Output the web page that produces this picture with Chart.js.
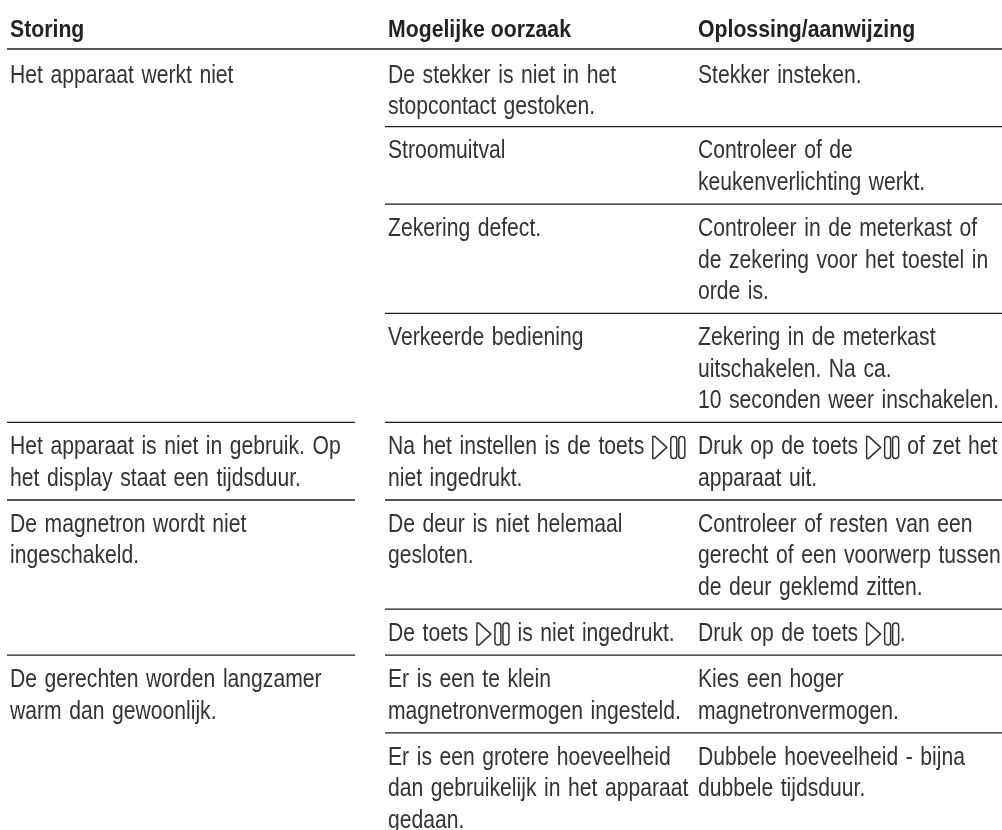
<!DOCTYPE html>
<html lang="nl">
<head>
<meta charset="utf-8">
<title>Storingen</title>
<script src="https://cdn.jsdelivr.net/npm/chart.js@4"></script>
<style>
    html, body { margin: 0; padding: 0; background: #fff; }
    canvas { display: block; }
</style>
</head>
<body>
<canvas id="tabel" width="1002" height="830"></canvas>
<script>
const koppen = ["Storing", "Mogelijke oorzaak", "Oplossing/aanwijzing"];

const storingen = [
    ["Het apparaat werkt niet"],
    ["Het apparaat is niet in gebruik. Op", "het display staat een tijdsduur."],
    ["De magnetron wordt niet", "ingeschakeld."],
    ["De gerechten worden langzamer", "warm dan gewoonlijk."]
];

// aantal rijen per storing
const rijenPerStoring = [4, 1, 2, 2];

const oorzaken = [
    ["De stekker is niet in het", "stopcontact gestoken."],
    ["Stroomuitval"],
    ["Zekering defect."],
    ["Verkeerde bediening"],
    ["Na het instellen is de toets ▷", "niet ingedrukt."],
    ["De deur is niet helemaal", "gesloten."],
    ["De toets ▷ is niet ingedrukt."],
    ["Er is een te klein", "magnetronvermogen ingesteld."],
    ["Er is een grotere hoeveelheid", "dan gebruikelijk in het apparaat", "gedaan."]
];

const oplossingen = [
    ["Stekker insteken."],
    ["Controleer of de", "keukenverlichting werkt."],
    ["Controleer in de meterkast of", "de zekering voor het toestel in", "orde is."],
    ["Zekering in de meterkast", "uitschakelen. Na ca.", "10 seconden weer inschakelen."],
    ["Druk op de toets ▷ of zet het", "apparaat uit."],
    ["Controleer of resten van een", "gerecht of een voorwerp tussen", "de deur geklemd zitten."],
    ["Druk op de toets ▷."],
    ["Kies een hoger", "magnetronvermogen."],
    ["Dubbele hoeveelheid - bijna", "dubbele tijdsduur."]
];

const REGEL = 31.5;          // px per tekstregel, de y-as loopt in regels
const KOP_LIJN = 49;
const RIJ_MARGE = 14.6 / REGEL;
const EERSTE_REGEL = 25 / REGEL;
const EERSTE_RIJ_EXTRA = 2 / REGEL;
const KOP_REGEL = -19 / REGEL;
const KOLOM_X = [10, 388, 698];
const LIJN_LINKS = [7, 355];
const LIJN_RECHTS = [385, 1002];

const FONT_TEKST = '25px "Liberation Sans", sans-serif';
const FONT_KOP = 'bold 24px "Liberation Sans", sans-serif';

// bovenkant van iedere rij in regels, afgeleid uit het aantal tekstregels
function berekenRijen() {
    const boven = [0];
    oorzaken.forEach((cel, i) => {
        const regels = Math.max(cel.length, oplossingen[i].length);
        boven.push(boven[i] + regels + RIJ_MARGE);
    });
    return boven;
}

function lijnDataset(x1, x2, y) {
    return {
        type: "line",
        data: [{ x: x1, y }, { x: x2, y }],
        borderColor: "#1c1c1c",
        borderWidth: 1.3,
        pointRadius: 0,
        tension: 0
    };
}

function tekstDataset(punten, opmaak) {
    return {
        type: "scatter",
        data: punten,
        pointRadius: 0,
        tekstOpmaak: opmaak
    };
}

function celPunten(regels, kolom, boven) {
    const extra = boven === 0 ? EERSTE_RIJ_EXTRA : 0;
    return regels.map((tekst, i) => ({
        x: KOLOM_X[kolom],
        y: boven + EERSTE_REGEL + extra + i,
        tekst
    }));
}

// het symbool start/pauze uit de handleiding, op de tekstregel
function tekenSymbool(ctx, x, y) {
    ctx.save();
    ctx.strokeStyle = "#333";
    ctx.lineWidth = 1.5;
    ctx.lineJoin = "round";
    ctx.beginPath();
    ctx.moveTo(x + 1, y - 11);
    ctx.lineTo(x + 3, y - 11);
    ctx.lineTo(x + 15, y);
    ctx.lineTo(x + 3, y + 11);
    ctx.lineTo(x + 1, y + 11);
    ctx.closePath();
    ctx.stroke();
    [19, 27].forEach(dx => {
        ctx.beginPath();
        ctx.roundRect(x + dx, y - 11, 6, 22, 3);
        ctx.stroke();
    });
    ctx.restore();
    return 34;
}

const tabelTekst = {
    id: "tabelTekst",
    afterDatasetsDraw(chart) {
        const ctx = chart.ctx;
        chart.data.datasets.forEach((dataset, d) => {
            const opmaak = dataset.tekstOpmaak;
            if (!opmaak) return;
            const meta = chart.getDatasetMeta(d);
            ctx.save();
            ctx.font = opmaak.font;
            ctx.fillStyle = opmaak.kleur;
            ctx.textBaseline = "middle";
            ctx.wordSpacing = opmaak.woordAfstand;
            dataset.data.forEach((punt, i) => {
                let x = meta.data[i].x;
                const y = meta.data[i].y;
                punt.tekst.split("▷").forEach((stuk, s) => {
                    if (s > 0) x += tekenSymbool(ctx, x, y);
                    if (!stuk) return;
                    // de letter van het origineel is smal, dus horizontaal samendrukken
                    ctx.save();
                    ctx.translate(x, y);
                    ctx.scale(opmaak.breedte, 1);
                    ctx.fillText(stuk, 0, 0);
                    ctx.restore();
                    x += ctx.measureText(stuk).width * opmaak.breedte;
                });
            });
            ctx.restore();
        });
    }
};

function inicializarTabel() {
    const boven = berekenRijen();
    const datasets = [lijnDataset(LIJN_LINKS[0], LIJN_RECHTS[1], 0)];
    const kopPunten = koppen.map((tekst, k) => ({ x: KOLOM_X[k], y: KOP_REGEL, tekst }));
    const punten = [];

    oorzaken.forEach((cel, i) => {
        punten.push(...celPunten(cel, 1, boven[i]));
        punten.push(...celPunten(oplossingen[i], 2, boven[i]));
        if (i > 0) datasets.push(lijnDataset(LIJN_RECHTS[0], LIJN_RECHTS[1], boven[i]));
    });

    let rij = 0;
    storingen.forEach((cel, i) => {
        punten.push(...celPunten(cel, 0, boven[rij]));
        if (i > 0) datasets.push(lijnDataset(LIJN_LINKS[0], LIJN_LINKS[1], boven[rij]));
        rij += rijenPerStoring[i];
    });

    datasets.push(tekstDataset(kopPunten, { font: FONT_KOP, kleur: "#222", breedte: 0.885, woordAfstand: "0px" }));
    datasets.push(tekstDataset(punten, { font: FONT_TEKST, kleur: "#333", breedte: 0.845, woordAfstand: "2px" }));

    new Chart(document.getElementById("tabel").getContext("2d"), {
        type: "scatter",
        data: { datasets },
        plugins: [tabelTekst],
        options: {
            responsive: false,
            animation: false,
            layout: { padding: 0 },
            plugins: { legend: { display: false }, tooltip: { enabled: false } },
            scales: {
                x: { type: "linear", display: false, min: 0, max: 1002 },
                y: {
                    type: "linear",
                    display: false,
                    reverse: true,
                    min: -KOP_LIJN / REGEL,
                    max: (830 - KOP_LIJN) / REGEL
                }
            }
        }
    });
}

document.addEventListener("DOMContentLoaded", inicializarTabel);
</script>
</body>
</html>
